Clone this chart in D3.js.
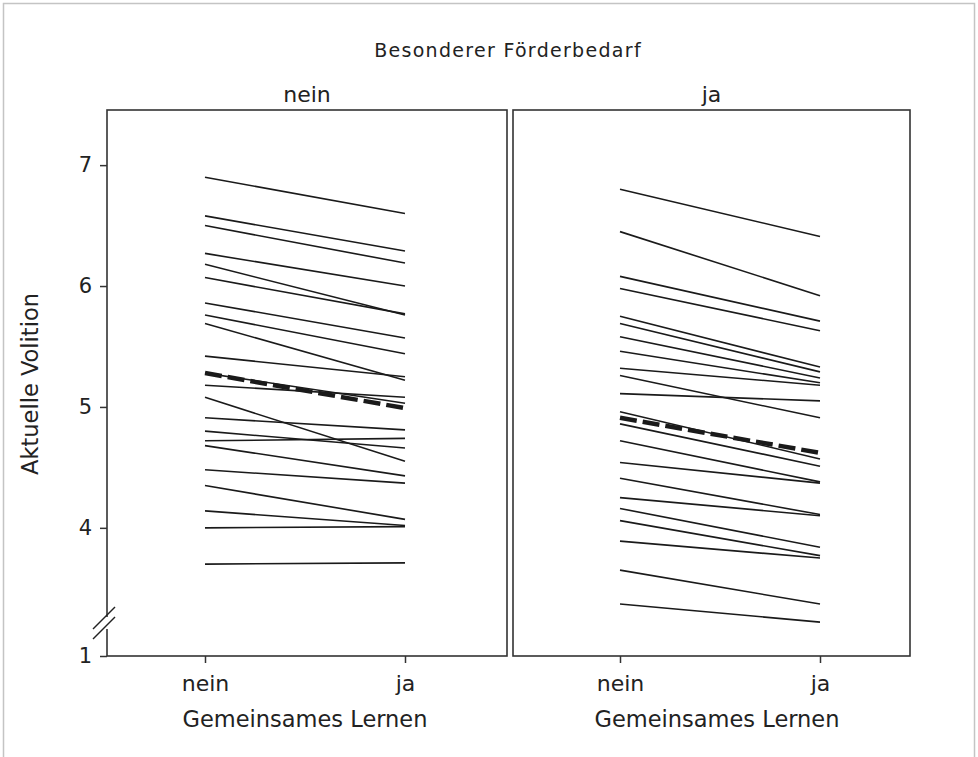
<!DOCTYPE html>
<html><head><meta charset="utf-8">
<script src="https://cdn.jsdelivr.net/npm/d3@7"></script>
<style>body{margin:0;background:#fff} svg{display:block}</style>
</head><body><svg id="c" width="978" height="757"></svg>
<script>
// ---- data ----
const facets = ["nein", "ja"];                 // Besonderer Förderbedarf
const xCategories = ["nein", "ja"];            // Gemeinsames Lernen
const yTickValues = [1, 4, 5, 6, 7];
const yTickLabels = ["1", "4", "5", "6", "7"];
const axisBreakAt = 2.94;                      // visible range starts here (axis broken down to 1)
const yTop = 7.456;
// Facet "nein": values at Gemeinsames Lernen = nein / ja
const neinStart = [6.90,6.58,6.50,6.27,6.18,6.07,5.86,5.76,5.69,5.42,5.28,5.18,5.08,4.91,4.80,4.72,4.68,4.48,4.35,4.14,4.00,3.70];
const neinEnd   = [6.60,6.29,6.19,6.00,5.76,5.77,5.57,5.44,5.22,5.25,5.03,5.08,4.55,4.81,4.66,4.74,4.43,4.37,4.07,4.02,4.01,3.71];
const neinMean  = [5.28, 4.99];
// Facet "ja"
const jaStart = [6.80,6.45,6.08,5.98,5.75,5.69,5.58,5.46,5.32,5.26,5.11,4.96,4.86,4.72,4.54,4.41,4.25,4.16,4.06,3.89,3.65,3.37];
const jaEnd   = [6.41,5.92,5.71,5.63,5.33,5.29,5.24,5.20,5.18,4.91,5.05,4.57,4.51,4.38,4.37,4.11,4.10,3.84,3.77,3.75,3.37,3.22];
const jaMean  = [4.91, 4.62];

const title = "Besonderer Förderbedarf";
const xTitle = "Gemeinsames Lernen";
const yTitle = "Aktuelle Volition";

// ---- layout ----
const svg = d3.select("#c");
const FONT = "'DejaVu Sans', Verdana, sans-serif";
const plotTop = 110, plotBottom = 656;
const panels = [
  {name: facets[0], x0: 107, x1: 507, xr: [205, 405], starts: neinStart, ends: neinEnd, mean: neinMean},
  {name: facets[1], x0: 513, x1: 910, xr: [620, 820], starts: jaStart, ends: jaEnd, mean: jaMean}
];

svg.append("rect").attr("x", 3.5).attr("y", 3.5).attr("width", 971).attr("height", 800)
  .attr("fill", "#fff").attr("stroke", "#c4c4c4").attr("stroke-width", 1.5);

const y = d3.scaleLinear().domain([1, axisBreakAt, yTop]).range([plotBottom, plotBottom, plotTop]);

svg.append("text").attr("x", 508).attr("y", 57)
  .attr("text-anchor", "middle").attr("font-family", FONT)
  .attr("font-size", 19).attr("letter-spacing", 1.3).attr("fill", "#222").text(title);

panels.forEach((p, i) => {
  const x = d3.scalePoint().domain(xCategories).range(p.xr);
  const g = svg.append("g");
  g.append("rect").attr("x", p.x0).attr("y", plotTop).attr("width", p.x1 - p.x0).attr("height", plotBottom - plotTop)
    .attr("fill", "#fff").attr("stroke", "#333").attr("stroke-width", 1.6);
  g.append("text").attr("x", (p.x0 + p.x1) / 2).attr("y", 102).attr("text-anchor", "middle")
    .attr("font-family", FONT).attr("font-size", 22).attr("fill", "#222").text(p.name);
  const line = d3.line().x(d => x(d[0])).y(d => y(d[1]));
  p.starts.forEach((s, k) => {
    g.append("path").attr("d", line([[xCategories[0], s], [xCategories[1], p.ends[k]]]))
      .attr("fill", "none").attr("stroke", "#1a1a1a").attr("stroke-width", 1.6);
  });
  g.append("path").attr("d", line([[xCategories[0], p.mean[0]], [xCategories[1], p.mean[1]]]))
    .attr("fill", "none").attr("stroke", "#1a1a1a").attr("stroke-width", 4.5)
    .attr("stroke-dasharray", "17,6");
  const ax = g.append("g").attr("transform", `translate(0,${plotBottom})`)
    .call(d3.axisBottom(x).tickSize(7).tickPadding(12));
  ax.select(".domain").remove();
  ax.selectAll("line").attr("stroke", "#333").attr("stroke-width", 1.5);
  ax.selectAll("text").attr("font-family", FONT).attr("font-size", 22).attr("fill", "#222");
  g.append("text").attr("x", (p.xr[0] + p.xr[1]) / 2 + (i === 0 ? 0 : -3)).attr("y", 727).attr("text-anchor", "middle")
    .attr("font-family", FONT).attr("font-size", 22.5).attr("fill", "#222").text(xTitle);
});

const ay = svg.append("g").attr("transform", `translate(${panels[0].x0},0)`)
  .call(d3.axisLeft(y).tickValues(yTickValues).tickFormat((d, i) => yTickLabels[i]).tickSize(7).tickPadding(8));
ay.select(".domain").remove();
ay.selectAll("line").attr("stroke", "#333").attr("stroke-width", 1.5);
ay.selectAll("text").attr("font-family", FONT).attr("font-size", 21).attr("fill", "#222");

const bx = panels[0].x0 - 3, by = y(axisBreakAt) - 33;
svg.append("rect").attr("x", bx + 1).attr("y", by - 6).attr("width", 5).attr("height", 12).attr("fill", "#fff");
[-5, 5].forEach(o => {
  svg.append("line").attr("x1", bx - 11).attr("y1", by + o + 11).attr("x2", bx + 11).attr("y2", by + o - 11)
    .attr("stroke", "#222").attr("stroke-width", 1.5);
});

svg.append("text").attr("transform", `translate(38,384) rotate(-90)`)
  .attr("text-anchor", "middle").attr("font-family", FONT).attr("font-size", 22.5).attr("fill", "#222").text(yTitle);
</script></body></html>
